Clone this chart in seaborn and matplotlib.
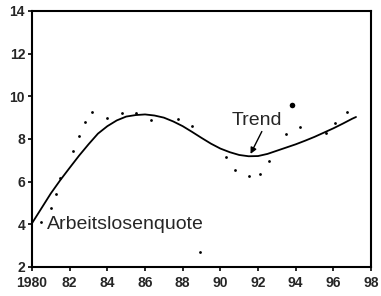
import numpy as np
import pandas as pd
import matplotlib
matplotlib.use("Agg")
import matplotlib.pyplot as plt
import seaborn as sns

# --- Data ---
trend_jahr = [1980, 1980.5, 1981, 1981.5, 1982, 1982.5, 1983, 1983.5, 1984,
              1984.5, 1985, 1985.5, 1986, 1986.5, 1987, 1987.5, 1988, 1988.5,
              1989, 1989.5, 1990, 1990.5, 1991, 1991.5, 1992, 1992.5, 1993,
              1993.5, 1994, 1994.5, 1995, 1995.5, 1996, 1996.5, 1997, 1997.2]
trend_wert = [4.05, 4.75, 5.45, 6.07, 6.65, 7.22, 7.75, 8.25, 8.6,
              8.87, 9.05, 9.12, 9.15, 9.1, 9.0, 8.82, 8.6, 8.33,
              8.05, 7.78, 7.55, 7.38, 7.25, 7.19, 7.2, 7.3, 7.45,
              7.6, 7.75, 7.92, 8.1, 8.3, 8.5, 8.72, 8.95, 9.03]

quote_jahr = [1980.5, 1981.0, 1981.3, 1981.5, 1982.2, 1982.5, 1982.8, 1983.2,
              1984.0, 1984.8, 1985.5, 1986.3, 1987.75, 1988.5, 1988.9, 1990.3,
              1990.8, 1991.5, 1992.1, 1992.6, 1993.5, 1994.2, 1995.6, 1996.1,
              1996.7]
quote_wert = [4.1, 4.77, 5.42, 6.17, 7.44, 8.14, 8.8, 9.27,
              8.98, 9.2, 9.2, 8.9, 8.94, 8.6, 2.7, 7.16,
              6.55, 6.27, 6.36, 6.97, 8.23, 8.56, 8.28, 8.75,
              9.27]
spitze_jahr = [1993.8]
spitze_wert = [9.6]

x_ticks = [1980, 1982, 1984, 1986, 1988, 1990, 1992, 1994, 1996, 1998]
x_labels = ["1980", "82", "84", "86", "88", "90", "92", "94", "96", "98"]
y_ticks = [2, 4, 6, 8, 10, 12, 14]

trend_df = pd.DataFrame({"Jahr": trend_jahr, "Wert": trend_wert})
quote_df = pd.DataFrame({"Jahr": quote_jahr, "Wert": quote_wert})
spitze_df = pd.DataFrame({"Jahr": spitze_jahr, "Wert": spitze_wert})

# --- Plot ---
sns.set_style("ticks")
plt.rcParams["font.family"] = ["Liberation Sans", "DejaVu Sans"]

fig = plt.figure(figsize=(3.81, 2.96), dpi=100)
ax = fig.add_axes([0.084, 0.098, 0.89, 0.865])

sns.lineplot(data=trend_df, x="Jahr", y="Wert", ax=ax, color="black",
             linewidth=1.3, sort=False)
sns.scatterplot(data=quote_df, x="Jahr", y="Wert", ax=ax, color="black",
                s=4, linewidth=0)
sns.scatterplot(data=spitze_df, x="Jahr", y="Wert", ax=ax, color="black",
                s=16, linewidth=0)

ax.set_xlim(1980, 1998)
ax.set_ylim(2, 14)
ax.set_xticks(x_ticks)
ax.set_xticklabels(x_labels)
ax.set_yticks(y_ticks)
ax.set_xlabel("")
ax.set_ylabel("")
for lab in ax.get_xticklabels() + ax.get_yticklabels():
    lab.set_fontweight("bold")
    lab.set_fontsize(10)
ax.tick_params(direction="out", length=3, width=1.2, color="black")
ax.tick_params(axis="x", pad=3.5)
ax.tick_params(axis="y", pad=2)
for s in ax.spines.values():
    s.set_visible(True)
    s.set_linewidth(1.5)
    s.set_color("black")

ax.text(1980.8, 4.0, "Arbeitslosenquote", fontsize=14, va="center", ha="left")
ax.text(1991.95, 8.85, "Trend", fontsize=14, va="center", ha="center")
ax.annotate("", xy=(1991.6, 7.3), xytext=(1992.2, 8.35),
            arrowprops=dict(arrowstyle="-|>", color="black", lw=1.0,
                            shrinkA=0, shrinkB=0, mutation_scale=9))

fig.savefig("out.png", dpi=100)
